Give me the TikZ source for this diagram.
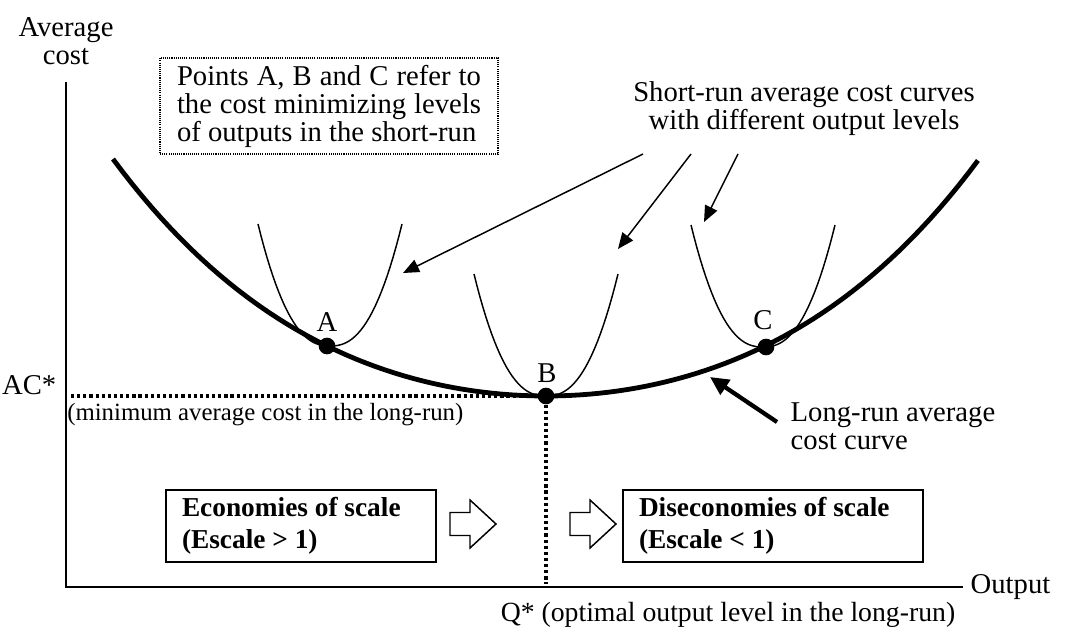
\documentclass[tikz,border=0pt]{standalone}
\usepackage{fontspec}
\setmainfont{Liberation Serif}
\usetikzlibrary{arrows.meta,positioning}

\begin{document}
\begin{tikzpicture}[x=0.75pt, y=-0.75pt,
    font=\fontsize{21.5}{21}\selectfont,
    axis/.style={line width=1.1pt},
    guide/.style={line width=2.6pt, dash pattern=on 2.4pt off 2.2pt},
    srac/.style={line width=1.1pt},
    lrac/.style={line width=3.6pt},
    dot/.style={circle, fill, inner sep=0pt, minimum size=12.5pt},
    note/.style={-{Triangle[length=12pt,width=10pt]}, line width=1.1pt},
    scalebox/.style={draw, line width=1.5pt, align=flush left, inner xsep=12pt, minimum height=54pt,
                     font=\bfseries\fontsize{20.5}{24}\selectfont},
    hollow/.style={draw, line width=1.1pt, line join=miter},
    declare function={lr(\t)=396-9.664*\t*\t-0.1587*\t*\t*\t*\t;}]
    \useasboundingbox (0,0) rectangle (1083,628);

    % axes
    \coordinate (ytop) at (66,82);
    \coordinate (origin) at (66,587);
    \coordinate (xend) at (963,587);
    \draw[axis] (ytop) -- (origin) -- (xend);
    \node[align=center] (ylab) at (66,41) {Average\\cost};
    \node[anchor=west] (xlab) at (966,587) {Output};

    % short-run and long-run curves
    \foreach \cx/\cy in {330/346, 546/396, 763/347}
      \draw[srac] plot[domain=-72:72, samples=50] ({\cx+\x}, {\cy-122*pow(abs(\x/72),2.4)});
    \draw[lrac] plot[domain=-4.33:4.32, samples=90, variable=\t] ({546+100*\t}, {lr(\t)});

    \node[dot] (A) at (327,346) {};
    \node[dot] (B) at (546,396) {};
    \node[dot] (C) at (766,347) {};
    \node (alab) at (327,322) {A};
    \node (blab) at (547,373) {B};
    \node (clab) at (763,320) {C};

    % optimum
    \coordinate (acs) at (71,396);
    \coordinate (qs) at (546,584);
    \draw[guide] (acs) -- (B);
    \draw[guide] (B) -- (qs);
    \node[anchor=east] (aclab) at (61,385) {AC*};
    \node[anchor=west, inner sep=0pt, font=\fontsize{18.6}{21}\selectfont] (minlab) at (67,415)
      {(minimum average cost in the long-run)};
    \node[font=\fontsize{20.8}{21}\selectfont] (qlab) at (728,615) {Q* (optimal output level in the long-run)};

    % notes
    \node[draw, dash pattern=on 0.8pt off 0.8pt, line width=0.8pt, text width=228pt, align=justify,
          inner xsep=12.75pt, minimum height=72pt] (pointsbox) at (329,106)
      {Points A, B and C refer to\linebreak the cost minimizing levels\linebreak of outputs in the short-run};
    \node[align=center] (srtext) at (804,109) {Short-run average cost curves\\with different output levels};
    \coordinate (s1) at (643,154);
    \coordinate (s2) at (691,154);
    \coordinate (s3) at (738,154);
    \coordinate (t1) at (403,273);
    \coordinate (t2) at (618,249);
    \coordinate (t3) at (704,222);
    \draw[note] (s1) -- (t1);
    \draw[note] (s2) -- (t2);
    \draw[note] (s3) -- (t3);

    \node[align=left, anchor=west] (lrtext) at (786,426) {Long-run average\\cost curve};
    \coordinate (l0) at (777,422);
    \coordinate (l1) at (710,377);
    \draw[-{Triangle[length=14pt,width=13pt]}, line width=3.2pt] (l0) -- (l1);

    % scale boxes
    \node[scalebox, text width=178.5pt] (econ) at (301,526) {Economies of scale\\(Escale > 1)};
    \node[scalebox, text width=201pt] (disecon) at (773,526) {Diseconomies of scale\\(Escale < 1)};
    \foreach \hx in {450, 570}
      \draw[hollow] (\hx,512.5) -- ++(20,0) -- ++(0,-12.5) -- ++(26,24) -- ++(-26,24) -- ++(0,-12.5) -- ++(-20,0) -- cycle;
  \end{tikzpicture}
\end{document}
